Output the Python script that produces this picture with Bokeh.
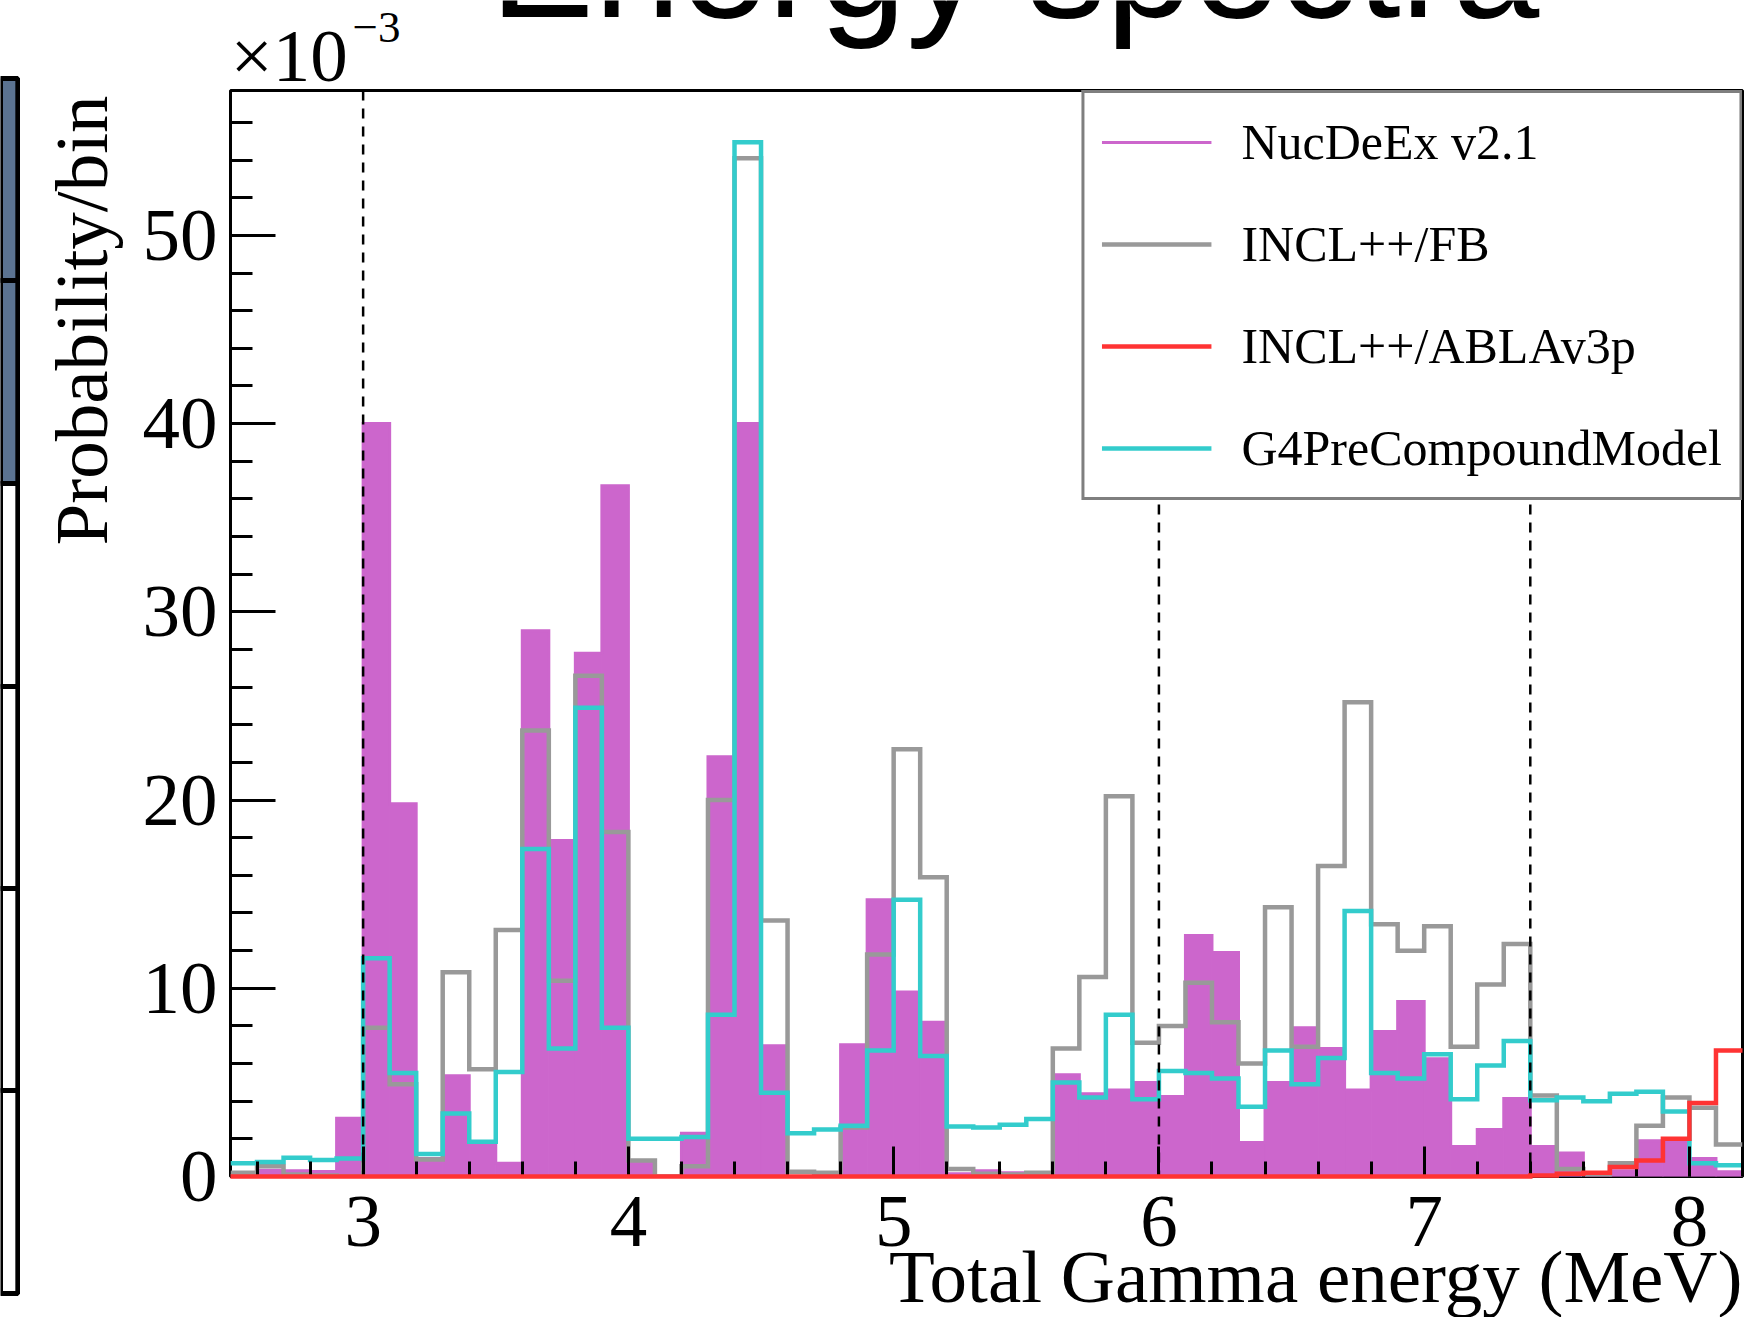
import numpy as np
from bokeh.plotting import figure
from bokeh.models import Span, Label, Legend, LegendItem, SingleIntervalTicker, Title
from bokeh.layouts import row, column
from bokeh.embed import file_html
from bokeh.resources import INLINE

# Histogram binning (MeV)
bin_low = 2.5
bin_width = 0.1
n_bins = 57

# Probability per bin, in units of 1e-3
nucdeex = [0.0, 0.33, 0.3, 0.27, 3.1, 40.0, 19.8, 0.96, 5.35, 1.65,
           0.7, 29.0, 17.85, 27.8, 36.7, 0.7, 0.0, 2.3, 22.3, 40.0,
           6.95, 0.0, 0.2, 7.0, 14.7, 9.8, 8.2, 0.15, 0.3, 0.2,
           0.05, 5.4, 4.4, 4.6, 5.0, 4.25, 12.8, 11.9, 1.8, 5.0,
           7.9, 6.8, 4.6, 7.7, 9.3, 6.25, 1.6, 2.5, 4.15, 1.6,
           1.25, 0.2, 0.3, 1.9, 1.9, 0.95, 0.25]
incl_fb = [0.2, 0.55, 0.1, 0.05, 0.0, 7.9, 4.9, 0.9, 10.85, 5.7,
           13.1, 23.7, 10.4, 26.6, 18.3, 0.85, 0.0, 0.55, 20.0, 54.1,
           13.6, 0.25, 0.2, 2.6, 11.8, 22.7, 15.9, 0.4, 0.15, 0.1,
           0.2, 6.8, 10.6, 20.2, 7.1, 8.0, 10.3, 8.2, 6.0, 14.3,
           6.9, 16.5, 25.2, 13.4, 12.0, 13.3, 6.9, 10.2, 12.35, 4.3,
           0.4, 0.0, 0.7, 2.7, 4.2, 3.65, 1.7]
incl_abla = [0.0] * 49 + [0.05, 0.15, 0.2, 0.5, 0.85, 2.0, 3.9, 6.7]
g4precompound = [0.7, 0.77, 1.0, 0.88, 0.96, 11.6, 5.5, 1.2, 3.35, 1.85,
                 5.55, 17.4, 6.8, 24.9, 7.9, 2.0, 2.0, 2.1, 8.6, 54.95,
                 4.45, 2.3, 2.5, 2.7, 6.7, 14.7, 6.4, 2.65, 2.6, 2.75,
                 3.05, 5.0, 4.2, 8.6, 4.1, 5.6, 5.5, 5.2, 3.7, 6.7,
                 4.9, 6.3, 14.1, 5.5, 5.2, 6.5, 4.1, 5.9, 7.2, 4.05,
                 4.2, 4.0, 4.4, 4.5, 3.45, 0.7, 0.6]

legend_labels = ["NucDeEx v2.1", "INCL++/FB", "INCL++/ABLAv3p", "G4PreCompoundModel"]
cut_energies = [3.0, 6.0, 7.4]

C_NUC = "#cc66cc"
C_FB = "#999999"
C_ABLA = "#ff3333"
C_G4 = "#33cccc"
SERIF = "Liberation Serif"

edges = np.round(bin_low + bin_width * np.arange(n_bins + 1), 3)
y_max = 1.05 * max(max(nucdeex), max(incl_fb), max(incl_abla), max(g4precompound))


def step_xy(values):
    xs = np.repeat(edges, 2)[1:-1]
    ys = np.repeat(np.asarray(values, dtype=float), 2)
    return xs, ys


def set_standoff(title, wanted, fallback):
    try:
        title.standoff = wanted
    except ValueError:
        title.standoff = fallback


# ---- main histogram panel ----
p = figure(width=1742, height=1229, x_range=(bin_low, edges[-1]), y_range=(0, y_max),
           output_backend="svg", toolbar_location=None,
           min_border_left=210, min_border_right=20, min_border_top=2, min_border_bottom=141)
p.grid.visible = False
p.outline_line_color = "black"
p.outline_line_width = 3
p.background_fill_color = "white"
p.border_fill_color = "white"

p.quad(left=edges[:-1], right=edges[1:], bottom=0, top=nucdeex,
       fill_color=C_NUC, line_color=C_NUC, line_width=1)
renderers = []
for vals, col in [(nucdeex, C_NUC), (incl_fb, C_FB), (g4precompound, C_G4), (incl_abla, C_ABLA)]:
    xs, ys = step_xy(vals)
    renderers.append(p.line(xs, ys, line_color=col, line_width=4.5 if col != C_NUC else 3,
                            line_join="miter"))
r_nuc, r_fb, r_g4, r_abla = renderers
r_abla.level = "overlay"

for e in cut_energies:
    p.add_layout(Span(location=e, dimension="height", line_color="black",
                      line_width=2.5, line_dash="10 8"))

p.xaxis.ticker = SingleIntervalTicker(interval=1, num_minor_ticks=5)
p.yaxis.ticker = SingleIntervalTicker(interval=10, num_minor_ticks=5)
for ax in (p.xaxis, p.yaxis):
    ax.axis_line_color = None
    ax.major_tick_out = 0
    ax.minor_tick_out = 0
    ax.major_tick_line_width = 3
    ax.minor_tick_line_width = 3
    ax.major_tick_line_color = "black"
    ax.minor_tick_line_color = "black"
    ax.major_label_text_font = SERIF
    ax.major_label_text_font_size = "75px"
    ax.major_label_text_color = "black"
p.xaxis.major_tick_in = 30
p.xaxis.minor_tick_in = 15
p.xaxis.major_label_standoff = 20
p.yaxis.major_tick_in = 45
p.yaxis.minor_tick_in = 22
p.yaxis.major_label_standoff = 13

# axis titles, right-aligned at the axis ends
x_title = Title(text="Total Gamma energy (MeV)", align="right", vertical_align="top",
                offset=0, text_font=SERIF, text_font_size="75px",
                text_font_style="normal", text_color="black")
set_standoff(x_title, -28, 0)
p.add_layout(x_title, "below")
y_title = Title(text="Probability/bin", align="right", vertical_align="bottom",
                offset=5, text_font=SERIF, text_font_size="75px",
                text_font_style="normal", text_color="black")
set_standoff(y_title, 33, 33)
p.add_layout(y_title, "left")

legend = Legend(items=[LegendItem(label=l, renderers=[r]) for l, r in
                       zip(legend_labels, (r_nuc, r_fb, r_abla, r_g4))],
                location="top_right", margin=0, padding=17, spacing=38,
                glyph_width=110, glyph_height=64, label_height=64, label_standoff=30,
                label_text_font=SERIF, label_text_font_size="50px", label_text_color="black",
                label_text_baseline="middle",
                border_line_color="black", border_line_width=3,
                background_fill_color="white", background_fill_alpha=1.0)
p.add_layout(legend)

# ---- header strip (frame aligned with the histogram frame): title and exponent ----
top = figure(width=1742, height=88, x_range=(bin_low, edges[-1]), y_range=(88, 0),
             output_backend="svg", toolbar_location=None, min_border=0)
top.axis.visible = False
top.grid.visible = False
top.outline_line_color = None
top.add_layout(Label(x=2.5, y=55, text="\u00d710", text_align="left",
                     text_baseline="alphabetic", text_font=SERIF, text_font_size="75px",
                     text_color="black"))
top.add_layout(Label(x=2.96, y=27, text="\u22123", text_align="left",
                     text_baseline="alphabetic", text_font=SERIF, text_font_size="45px",
                     text_color="black"))
top.add_layout(Label(x=5.456, y=-38, text="Energy spectra", text_align="center",
                     text_baseline="alphabetic", text_font="Liberation Sans",
                     text_font_size="156px", text_color="black"))

# ---- edge of the neighbouring panel ----
side_top = [78, 280, 483, 686, 888, 1090]
side_bottom = [280, 483, 686, 888, 1090, 1293]
side_fill = ["#5b7391", "#5b7391", "white", "white", "white", "white"]
s = figure(width=20, height=1317, x_range=(-10, 20), y_range=(1317, 0),
           output_backend="svg", toolbar_location=None, min_border=0)
s.axis.visible = False
s.grid.visible = False
s.outline_line_color = None
s.quad(left=-10, right=16, top=side_top, bottom=side_bottom,
       fill_color=side_fill, line_color="black", line_width=5)

layout = row(s, column(top, p, spacing=0), spacing=0)
open("out.html", "w").write(file_html(layout, INLINE))
